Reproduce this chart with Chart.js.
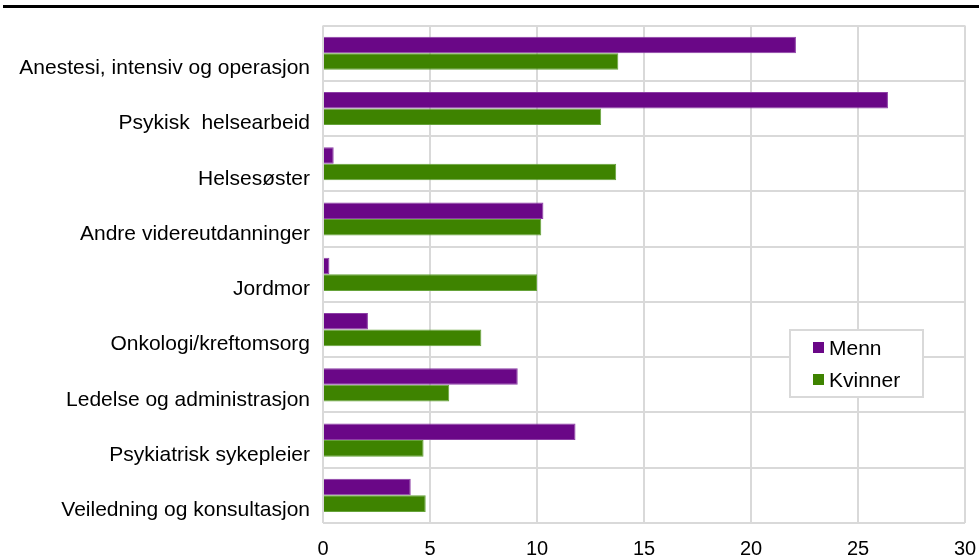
<!DOCTYPE html>
<html>
<head>
<meta charset="utf-8">
<script src="https://cdn.jsdelivr.net/npm/chart.js@4/dist/chart.umd.min.js"></script>
<style>
html,body{margin:0;padding:0;background:#fff;}
#wrap{position:relative;width:979px;height:560px;}
</style>
</head>
<body>
<div id="wrap"><canvas id="c" width="979" height="560"></canvas></div>
<script>
const categories = [
  "Anestesi, intensiv og operasjon",
  "Psykisk  helsearbeid",
  "Helsesøster",
  "Andre videreutdanninger",
  "Jordmor",
  "Onkologi/kreftomsorg",
  "Ledelse og administrasjon",
  "Psykiatrisk sykepleier",
  "Veiledning og konsultasjon"
];
const menn    = [22.1, 26.4, 0.5, 10.3, 0.3, 2.1, 9.1, 11.8, 4.1];
const kvinner = [13.8, 13.0, 13.7, 10.2, 10.0, 7.4, 5.9, 4.7, 4.8];
const seriesNames = ["Menn", "Kvinner"];
const xTicks = [0, 5, 10, 15, 20, 25, 30];

const FONT = "'Liberation Sans', Arial, sans-serif";
const purple = "#6a0787", green = "#3e8300";

const topRule = {
  id: 'topRule',
  afterDraw(chart) {
    const ctx = chart.ctx;
    ctx.save();
    ctx.fillStyle = '#000';
    ctx.fillRect(3, 5, 976, 3);
    ctx.restore();
  }
};

const boxLegend = {
  id: 'boxLegend',
  afterDraw(chart) {
    const ctx = chart.ctx;
    const x0 = 790, y0 = 330, w = 133, h = 67;
    ctx.save();
    ctx.fillStyle = '#fff';
    ctx.fillRect(x0, y0, w, h);
    ctx.strokeStyle = '#d9d9d9';
    ctx.lineWidth = 2;
    ctx.strokeRect(x0, y0, w, h);
    ctx.font = "21px " + FONT;
    ctx.textBaseline = 'middle';
    chart.data.datasets.forEach((ds, i) => {
      const cy = 348 + i * 32;
      ctx.fillStyle = ds.backgroundColor;
      ctx.fillRect(813, cy - 6, 11, 11);
      ctx.fillStyle = '#000';
      ctx.fillText(ds.label, 829, cy + 1);
    });
    ctx.restore();
  }
};

new Chart(document.getElementById('c'), {
  type: 'bar',
  data: {
    labels: categories,
    datasets: [
      { label: seriesNames[0], data: menn, backgroundColor: purple, borderColor: '#8d3fa6', borderWidth: 1,
        barPercentage: 1.0, categoryPercentage: 0.6 },
      { label: seriesNames[1], data: kvinner, backgroundColor: green, borderColor: '#66a33a', borderWidth: 1,
        barPercentage: 1.0, categoryPercentage: 0.6 }
    ]
  },
  options: {
    indexAxis: 'y',
    responsive: false,
    animation: false,
    devicePixelRatio: 1,
    layout: { padding: { left: 0, right: 14, top: 25, bottom: 0 } },
    plugins: { legend: { display: false }, tooltip: { enabled: false } },
    scales: {
      x: {
        min: 0, max: 30,
        afterBuildTicks(scale) { scale.ticks = xTicks.map(v => ({ value: v })); },
        afterFit(scale) { scale.height = 37; scale.paddingLeft = 0; scale.paddingRight = 0; },
        grid: { color: '#d9d9d9', lineWidth: 2, drawTicks: false },
        border: { display: false },
        ticks: { color: '#000', font: { family: FONT, size: 20 }, padding: 14, maxRotation: 0 }
      },
      y: {
        afterFit(scale) { scale.width = 323; },
        grid: { color: '#d9d9d9', lineWidth: 2, drawTicks: false, offset: true },
        border: { display: false },
        ticks: { color: '#000', font: { family: FONT, size: 21 }, padding: 13, autoSkip: false, labelOffset: 15 }
      }
    }
  },
  plugins: [topRule, boxLegend]
});
</script>
</body>
</html>
